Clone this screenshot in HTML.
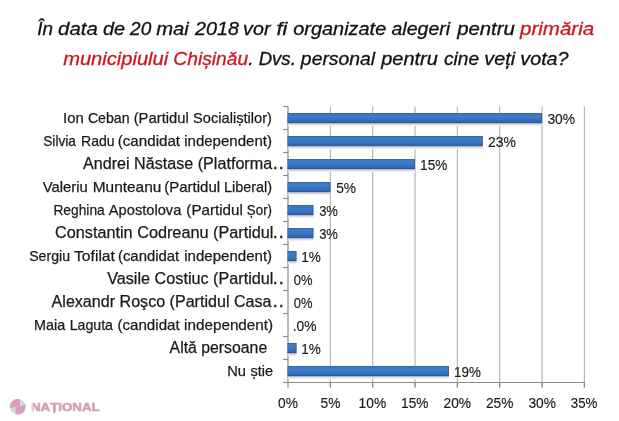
<!DOCTYPE html><html><head><meta charset="utf-8"><style>
html,body{margin:0;padding:0;background:#fff;width:619px;height:421px;overflow:hidden}
svg{position:absolute;left:0;top:0;display:block}
.bl{filter:blur(0.35px)}
text{font-family:"Liberation Sans",Arial,sans-serif;white-space:pre}
.t{font-style:italic;font-size:18.6px;fill:#111;stroke:#111;stroke-width:0.3px}
.r{fill:#cc1820;stroke:#cc1820}
.c{font-size:15px;fill:#1a1a1a;stroke:#1a1a1a;stroke-width:0.25px}
.a{font-size:16px;fill:#1a1a1a;stroke:#1a1a1a;stroke-width:0.25px}
.v{font-size:14.2px;fill:#1a1a1a;stroke:#1a1a1a;stroke-width:0.15px}
.d{stroke-width:0.7px}
.lg{font-weight:bold;font-size:11.6px;fill:#d59fb3;stroke:#d59fb3;stroke-width:0.6px}

</style></head><body>
<svg width="619" height="421" viewBox="0 0 619 421" class="bl">
<defs><linearGradient id="bg" x1="0" y1="0" x2="0" y2="1"><stop offset="0" stop-color="#3868a8"/><stop offset="0.1" stop-color="#3868a8"/><stop offset="0.12" stop-color="#3b7ac8"/><stop offset="0.45" stop-color="#3b7ac8"/><stop offset="0.88" stop-color="#3168b0"/><stop offset="0.9" stop-color="#2d5a96"/><stop offset="1" stop-color="#2d5a96"/></linearGradient><linearGradient id="sh" x1="0" y1="0" x2="0" y2="1"><stop offset="0" stop-color="#b4b8c2"/><stop offset="0.34" stop-color="#b4b8c2"/><stop offset="0.36" stop-color="#d8dadf"/><stop offset="0.66" stop-color="#dcdde1"/><stop offset="0.68" stop-color="#eeeeef"/><stop offset="1" stop-color="#f0f0f1"/></linearGradient></defs>
<line x1="330.34" y1="106.5" x2="330.34" y2="387.5" stroke="#b2b2b2" stroke-width="1.1"/>
<line x1="372.68" y1="106.5" x2="372.68" y2="387.5" stroke="#b2b2b2" stroke-width="1.1"/>
<line x1="415.02" y1="106.5" x2="415.02" y2="387.5" stroke="#b2b2b2" stroke-width="1.1"/>
<line x1="457.36" y1="106.5" x2="457.36" y2="387.5" stroke="#b2b2b2" stroke-width="1.1"/>
<line x1="499.70" y1="106.5" x2="499.70" y2="387.5" stroke="#b2b2b2" stroke-width="1.1"/>
<line x1="542.04" y1="106.5" x2="542.04" y2="387.5" stroke="#b2b2b2" stroke-width="1.1"/>
<line x1="584.38" y1="106.5" x2="584.38" y2="387.5" stroke="#b2b2b2" stroke-width="1.1"/>
<line x1="288.0" y1="106.5" x2="288.0" y2="387.5" stroke="#8a8a8a" stroke-width="1.2"/>
<rect x="288.0" y="123.00" width="254.04" height="3" fill="url(#sh)"/>
<rect x="287.4" y="113.00" width="254.64" height="10" fill="url(#bg)"/>
<rect x="541.14" y="113.00" width="0.9" height="10" fill="#2e5c98" opacity="0.8"/>
<rect x="288.0" y="146.00" width="194.76" height="3" fill="url(#sh)"/>
<rect x="287.4" y="136.00" width="195.36" height="10" fill="url(#bg)"/>
<rect x="481.86" y="136.00" width="0.9" height="10" fill="#2e5c98" opacity="0.8"/>
<rect x="288.0" y="169.00" width="127.02" height="3" fill="url(#sh)"/>
<rect x="287.4" y="159.00" width="127.62" height="10" fill="url(#bg)"/>
<rect x="414.12" y="159.00" width="0.9" height="10" fill="#2e5c98" opacity="0.8"/>
<rect x="288.0" y="192.00" width="42.34" height="3" fill="url(#sh)"/>
<rect x="287.4" y="182.00" width="42.94" height="10" fill="url(#bg)"/>
<rect x="329.44" y="182.00" width="0.9" height="10" fill="#2e5c98" opacity="0.8"/>
<rect x="288.0" y="215.00" width="25.40" height="3" fill="url(#sh)"/>
<rect x="287.4" y="205.00" width="26.00" height="10" fill="url(#bg)"/>
<rect x="312.50" y="205.00" width="0.9" height="10" fill="#2e5c98" opacity="0.8"/>
<rect x="288.0" y="238.00" width="25.40" height="3" fill="url(#sh)"/>
<rect x="287.4" y="228.00" width="26.00" height="10" fill="url(#bg)"/>
<rect x="312.50" y="228.00" width="0.9" height="10" fill="#2e5c98" opacity="0.8"/>
<rect x="288.0" y="261.00" width="8.47" height="3" fill="url(#sh)"/>
<rect x="287.4" y="251.00" width="9.07" height="10" fill="url(#bg)"/>
<rect x="295.57" y="251.00" width="0.9" height="10" fill="#2e5c98" opacity="0.8"/>
<rect x="288.0" y="353.00" width="8.47" height="3" fill="url(#sh)"/>
<rect x="287.4" y="343.00" width="9.07" height="10" fill="url(#bg)"/>
<rect x="295.57" y="343.00" width="0.9" height="10" fill="#2e5c98" opacity="0.8"/>
<rect x="288.0" y="376.00" width="160.89" height="3" fill="url(#sh)"/>
<rect x="287.4" y="366.00" width="161.49" height="10" fill="url(#bg)"/>
<rect x="447.99" y="366.00" width="0.9" height="10" fill="#2e5c98" opacity="0.8"/>
<line x1="283" y1="106.5" x2="288.0" y2="106.5" stroke="#8a8a8a" stroke-width="1.2"/>
<line x1="283" y1="129.5" x2="288.0" y2="129.5" stroke="#8a8a8a" stroke-width="1.2"/>
<line x1="283" y1="152.5" x2="288.0" y2="152.5" stroke="#8a8a8a" stroke-width="1.2"/>
<line x1="283" y1="175.5" x2="288.0" y2="175.5" stroke="#8a8a8a" stroke-width="1.2"/>
<line x1="283" y1="198.5" x2="288.0" y2="198.5" stroke="#8a8a8a" stroke-width="1.2"/>
<line x1="283" y1="221.5" x2="288.0" y2="221.5" stroke="#8a8a8a" stroke-width="1.2"/>
<line x1="283" y1="244.5" x2="288.0" y2="244.5" stroke="#8a8a8a" stroke-width="1.2"/>
<line x1="283" y1="267.5" x2="288.0" y2="267.5" stroke="#8a8a8a" stroke-width="1.2"/>
<line x1="283" y1="290.5" x2="288.0" y2="290.5" stroke="#8a8a8a" stroke-width="1.2"/>
<line x1="283" y1="313.5" x2="288.0" y2="313.5" stroke="#8a8a8a" stroke-width="1.2"/>
<line x1="283" y1="336.5" x2="288.0" y2="336.5" stroke="#8a8a8a" stroke-width="1.2"/>
<line x1="283" y1="359.5" x2="288.0" y2="359.5" stroke="#8a8a8a" stroke-width="1.2"/>
<line x1="283" y1="382.5" x2="288.0" y2="382.5" stroke="#8a8a8a" stroke-width="1.2"/>
<line x1="283" y1="382.5" x2="584.38" y2="382.5" stroke="#8a8a8a" stroke-width="1.2"/>
<line x1="330.34" y1="382.5" x2="330.34" y2="387.5" stroke="#8a8a8a" stroke-width="1.2"/>
<line x1="372.68" y1="382.5" x2="372.68" y2="387.5" stroke="#8a8a8a" stroke-width="1.2"/>
<line x1="415.02" y1="382.5" x2="415.02" y2="387.5" stroke="#8a8a8a" stroke-width="1.2"/>
<line x1="457.36" y1="382.5" x2="457.36" y2="387.5" stroke="#8a8a8a" stroke-width="1.2"/>
<line x1="499.70" y1="382.5" x2="499.70" y2="387.5" stroke="#8a8a8a" stroke-width="1.2"/>
<line x1="542.04" y1="382.5" x2="542.04" y2="387.5" stroke="#8a8a8a" stroke-width="1.2"/>
<line x1="584.38" y1="382.5" x2="584.38" y2="387.5" stroke="#8a8a8a" stroke-width="1.2"/>
<clipPath id="cc"><circle cx="17.75" cy="406.75" r="7.85"/></clipPath>
<g clip-path="url(#cc)">
<rect x="9" y="398" width="18" height="18" fill="#cfdbe9"/>
<polygon points="9,398 20,398 20,406.6 15.6,406.4 9,408.6" fill="#de9fb0"/>
<polygon points="15.6,406.4 20,406.6 27,403.6 27,416 15.6,416" fill="#d0a2bd"/>
</g>
<text class="t" x="37.17" y="34.90" textLength="15.74" lengthAdjust="spacingAndGlyphs">În</text>
<text class="t" x="58.06" y="34.90" textLength="39.78" lengthAdjust="spacingAndGlyphs">data</text>
<text class="t" x="102.91" y="34.90" textLength="22.12" lengthAdjust="spacingAndGlyphs">de</text>
<text class="t" x="130.06" y="34.90" textLength="21.18" lengthAdjust="spacingAndGlyphs">20</text>
<text class="t" x="156.22" y="34.90" textLength="32.66" lengthAdjust="spacingAndGlyphs">mai</text>
<text class="t" x="194.93" y="34.90" textLength="44.01" lengthAdjust="spacingAndGlyphs">2018</text>
<text class="t" x="243.08" y="34.90" textLength="27.38" lengthAdjust="spacingAndGlyphs">vor</text>
<text class="t" x="276.46" y="34.90" textLength="10.84" lengthAdjust="spacingAndGlyphs">fi</text>
<text class="t" x="293.22" y="34.90" textLength="93.03" lengthAdjust="spacingAndGlyphs">organizate</text>
<text class="t" x="391.44" y="34.90" textLength="58.70" lengthAdjust="spacingAndGlyphs">alegeri</text>
<text class="t" x="457.19" y="34.90" textLength="57.66" lengthAdjust="spacingAndGlyphs">pentru</text>
<text class="t r" x="519.96" y="34.90" textLength="74.25" lengthAdjust="spacingAndGlyphs">primăria</text>
<text class="t r" x="63.18" y="64.60" textLength="105.04" lengthAdjust="spacingAndGlyphs">municipiului</text>
<text class="t" x="173.33" y="64.60" textLength="80.28" lengthAdjust="spacingAndGlyphs"><tspan class="r">Chișinău</tspan>.</text>
<text class="t" x="258.71" y="64.60" textLength="37.10" lengthAdjust="spacingAndGlyphs">Dvs.</text>
<text class="t" x="300.88" y="64.60" textLength="74.30" lengthAdjust="spacingAndGlyphs">personal</text>
<text class="t" x="381.19" y="64.60" textLength="56.71" lengthAdjust="spacingAndGlyphs">pentru</text>
<text class="t" x="444.00" y="64.60" textLength="35.09" lengthAdjust="spacingAndGlyphs">cine</text>
<text class="t" x="484.26" y="64.60" textLength="30.90" lengthAdjust="spacingAndGlyphs">veți</text>
<text class="t" x="520.26" y="64.60" textLength="48.38" lengthAdjust="spacingAndGlyphs">vota?</text>
<text class="c" x="63.01" y="123.20" textLength="20.73" lengthAdjust="spacingAndGlyphs">Ion</text>
<text class="c" x="87.91" y="123.20" textLength="41.62" lengthAdjust="spacingAndGlyphs">Ceban</text>
<text class="c" x="133.70" y="123.20" textLength="55.12" lengthAdjust="spacingAndGlyphs">(Partidul</text>
<text class="c" x="192.98" y="123.20" textLength="79.03" lengthAdjust="spacingAndGlyphs">Socialiștilor)</text>
<text class="v" x="547.43" y="123.80" textLength="27.66" lengthAdjust="spacingAndGlyphs">30%</text>
<text class="c" x="43.19" y="146.20" textLength="32.77" lengthAdjust="spacingAndGlyphs">Silvia</text>
<text class="c" x="80.98" y="146.20" textLength="33.70" lengthAdjust="spacingAndGlyphs">Radu</text>
<text class="c" x="117.76" y="146.20" textLength="62.31" lengthAdjust="spacingAndGlyphs">(candidat</text>
<text class="c" x="184.17" y="146.20" textLength="87.91" lengthAdjust="spacingAndGlyphs">independent)</text>
<text class="v" x="487.97" y="146.80" textLength="27.90" lengthAdjust="spacingAndGlyphs">23%</text>
<text class="a" x="83.00" y="169.20" textLength="189.13" lengthAdjust="spacingAndGlyphs">Andrei Năstase (Platforma</text>
<text class="a d" x="273.31" y="169.20" textLength="4.11" lengthAdjust="spacingAndGlyphs">.</text>
<text class="a d" x="279.16" y="169.20" textLength="4.11" lengthAdjust="spacingAndGlyphs">.</text>
<text class="v" x="420.08" y="169.80" textLength="27.24" lengthAdjust="spacingAndGlyphs">15%</text>
<text class="c" x="42.75" y="192.20" textLength="45.14" lengthAdjust="spacingAndGlyphs">Valeriu</text>
<text class="c" x="92.72" y="192.20" textLength="68.63" lengthAdjust="spacingAndGlyphs">Munteanu</text>
<text class="c" x="164.24" y="192.20" textLength="55.86" lengthAdjust="spacingAndGlyphs">(Partidul</text>
<text class="c" x="223.98" y="192.20" textLength="48.10" lengthAdjust="spacingAndGlyphs">Liberal)</text>
<text class="v" x="336.19" y="192.80" textLength="19.91" lengthAdjust="spacingAndGlyphs">5%</text>
<text class="c" x="53.42" y="215.20" textLength="51.38" lengthAdjust="spacingAndGlyphs">Reghina</text>
<text class="c" x="108.80" y="215.20" textLength="72.54" lengthAdjust="spacingAndGlyphs">Apostolova</text>
<text class="c" x="186.38" y="215.20" textLength="56.39" lengthAdjust="spacingAndGlyphs">(Partidul</text>
<text class="c" x="246.82" y="215.20" textLength="25.26" lengthAdjust="spacingAndGlyphs">Șor)</text>
<text class="v" x="319.16" y="215.80" textLength="18.74" lengthAdjust="spacingAndGlyphs">3%</text>
<text class="a" x="55.02" y="238.20" textLength="218.45" lengthAdjust="spacingAndGlyphs">Constantin Codreanu (Partidul</text>
<text class="a d" x="273.31" y="238.20" textLength="4.11" lengthAdjust="spacingAndGlyphs">.</text>
<text class="a d" x="279.16" y="238.20" textLength="4.11" lengthAdjust="spacingAndGlyphs">.</text>
<text class="v" x="319.16" y="238.80" textLength="18.74" lengthAdjust="spacingAndGlyphs">3%</text>
<text class="c" x="29.19" y="261.20" textLength="40.83" lengthAdjust="spacingAndGlyphs">Sergiu</text>
<text class="c" x="74.05" y="261.20" textLength="40.87" lengthAdjust="spacingAndGlyphs">Tofilat</text>
<text class="c" x="117.96" y="261.20" textLength="61.23" lengthAdjust="spacingAndGlyphs">(candidat</text>
<text class="c" x="184.27" y="261.20" textLength="87.82" lengthAdjust="spacingAndGlyphs">independent)</text>
<text class="v" x="301.21" y="261.80" textLength="19.55" lengthAdjust="spacingAndGlyphs">1%</text>
<text class="a" x="107.16" y="284.20" textLength="166.29" lengthAdjust="spacingAndGlyphs">Vasile Costiuc (Partidul</text>
<text class="a d" x="273.31" y="284.20" textLength="4.11" lengthAdjust="spacingAndGlyphs">.</text>
<text class="a d" x="279.16" y="284.20" textLength="4.11" lengthAdjust="spacingAndGlyphs">.</text>
<text class="v" x="293.75" y="284.80" textLength="18.74" lengthAdjust="spacingAndGlyphs">0%</text>
<text class="a" x="51.58" y="307.20" textLength="219.93" lengthAdjust="spacingAndGlyphs">Alexandr Roşco (Partidul Casa</text>
<text class="a d" x="273.31" y="307.20" textLength="4.11" lengthAdjust="spacingAndGlyphs">.</text>
<text class="a d" x="279.16" y="307.20" textLength="4.11" lengthAdjust="spacingAndGlyphs">.</text>
<text class="v" x="293.75" y="307.80" textLength="18.74" lengthAdjust="spacingAndGlyphs">0%</text>
<text class="c" x="33.96" y="330.20" textLength="31.28" lengthAdjust="spacingAndGlyphs">Maia</text>
<text class="c" x="69.65" y="330.20" textLength="43.30" lengthAdjust="spacingAndGlyphs">Laguta</text>
<text class="c" x="117.46" y="330.20" textLength="62.22" lengthAdjust="spacingAndGlyphs">(candidat</text>
<text class="c" x="184.13" y="330.20" textLength="88.96" lengthAdjust="spacingAndGlyphs">independent)</text>
<text class="v" x="292.77" y="330.80" textLength="23.75" lengthAdjust="spacingAndGlyphs">.0%</text>
<text class="a" x="169.59" y="353.20" textLength="97.62" lengthAdjust="spacingAndGlyphs">Altă persoane</text>
<text class="v" x="301.21" y="353.80" textLength="19.55" lengthAdjust="spacingAndGlyphs">1%</text>
<text class="c" x="227.21" y="376.20" textLength="18.75" lengthAdjust="spacingAndGlyphs">Nu</text>
<text class="c" x="250.49" y="376.20" textLength="22.59" lengthAdjust="spacingAndGlyphs">știe</text>
<text class="v" x="454.03" y="376.80" textLength="26.84" lengthAdjust="spacingAndGlyphs">19%</text>
<text class="v" x="278.09" y="407.90" textLength="19.84" lengthAdjust="spacingAndGlyphs">0%</text>
<text class="v" x="320.50" y="407.90" textLength="19.89" lengthAdjust="spacingAndGlyphs">5%</text>
<text class="v" x="358.60" y="407.90" textLength="27.54" lengthAdjust="spacingAndGlyphs">10%</text>
<text class="v" x="401.07" y="407.90" textLength="27.46" lengthAdjust="spacingAndGlyphs">15%</text>
<text class="v" x="443.49" y="407.90" textLength="27.57" lengthAdjust="spacingAndGlyphs">20%</text>
<text class="v" x="485.97" y="407.90" textLength="27.46" lengthAdjust="spacingAndGlyphs">25%</text>
<text class="v" x="528.42" y="407.90" textLength="27.46" lengthAdjust="spacingAndGlyphs">30%</text>
<text class="v" x="570.85" y="407.90" textLength="26.51" lengthAdjust="spacingAndGlyphs">35%</text>
<text class="lg" x="31.00" y="411.20" textLength="68.64" lengthAdjust="spacingAndGlyphs">NAȚIONAL</text>
<rect x="30.4" y="402" width="2.9" height="10.5" fill="#fff" opacity="0.55"/>
</svg></body></html>
